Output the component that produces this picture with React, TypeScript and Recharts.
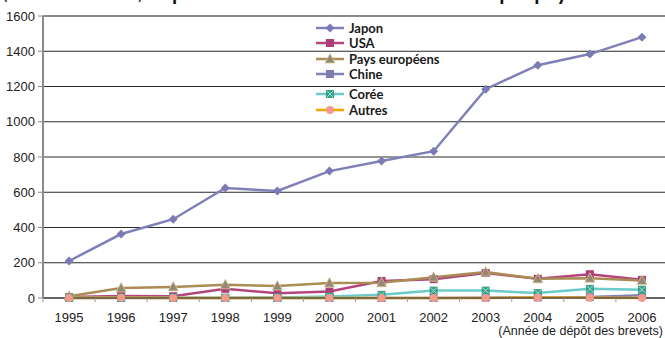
import React from "react";
import {
  LineChart,
  Line,
  XAxis,
  YAxis,
  CartesianGrid,
  Legend,
  ReferenceLine,
} from "recharts";

// Dépôts de brevets par pays, 1995-2006
const YEARS = ["1995", "1996", "1997", "1998", "1999", "2000", "2001", "2002", "2003", "2004", "2005", "2006"];
const JAPON = [210, 363, 447, 624, 607, 720, 777, 833, 1185, 1321, 1384, 1480];
const USA = [5, 12, 10, 52, 27, 37, 97, 107, 142, 109, 135, 103];
const EUROPE = [10, 57, 63, 75, 68, 85, 86, 118, 147, 109, 112, 99];
const CHINE = [0, 0, 0, 0, 0, 0, 0, 0, 2, 3, 5, 15];
const COREE = [2, 2, 2, 2, 3, 8, 18, 42, 42, 28, 52, 47];
const AUTRES = [0, 2, 0, 0, 0, 0, 0, 0, 0, 3, 2, 0];
const Y_TICKS = [0, 200, 400, 600, 800, 1000, 1200, 1400, 1600];

const TITLE_UNIT = "(nombre de brevets)";
const TITLE = "Répartition des demandes de brevets par pays";
const X_LABEL = "(Année de dépôt des brevets)";

type MarkerKind = "diamond" | "square" | "triangle" | "cross" | "circle";

interface SeriesConfig {
  dataKey: string;
  name: string;
  values: number[];
  color: string;
  markerFill: string;
  marker: MarkerKind;
}

const SERIES: SeriesConfig[] = [
  { dataKey: "japon", name: "Japon", values: JAPON, color: "#8080b8", markerFill: "#7b7bb3", marker: "diamond" },
  { dataKey: "usa", name: "USA", values: USA, color: "#b4457c", markerFill: "#ad3f76", marker: "square" },
  { dataKey: "europe", name: "Pays européens", values: EUROPE, color: "#aa8d55", markerFill: "#958870", marker: "triangle" },
  { dataKey: "chine", name: "Chine", values: CHINE, color: "#8383b3", markerFill: "#7c7cae", marker: "square" },
  { dataKey: "coree", name: "Corée", values: COREE, color: "#6ccaca", markerFill: "#3d9f84", marker: "cross" },
  { dataKey: "autres", name: "Autres", values: AUTRES, color: "#f5a500", markerFill: "#f39a8a", marker: "circle" },
];

const data = YEARS.map((year, i) => {
  const row: any = { year };
  SERIES.forEach((s) => {
    row[s.dataKey] = s.values[i];
  });
  return row;
});

const FONT_AXIS = "'Liberation Sans', Arial, sans-serif";
const FONT_TITLE = "Lato, 'Noto Sans', sans-serif";

const Marker = ({ cx, cy, kind, fill }: { cx: number; cy: number; kind: MarkerKind; fill: string }) => {
  if (cx == null || cy == null) return null;
  switch (kind) {
    case "diamond":
      return <polygon points={`${cx},${cy - 4.5} ${cx + 4.5},${cy} ${cx},${cy + 4.5} ${cx - 4.5},${cy}`} fill={fill} />;
    case "square":
      return <rect x={cx - 4} y={cy - 4} width={8} height={8} fill={fill} />;
    case "triangle":
      return (
        <polygon
          points={`${cx},${cy - 5.5} ${cx + 5},${cy + 4} ${cx - 5},${cy + 4}`}
          fill={fill}
          stroke="#d9c9a0"
          strokeWidth={0.8}
        />
      );
    case "cross":
      return (
        <g>
          <rect x={cx - 4} y={cy - 4} width={8} height={8} fill={fill} />
          <path
            d={`M${cx - 3},${cy - 3}L${cx + 3},${cy + 3}M${cx + 3},${cy - 3}L${cx - 3},${cy + 3}`}
            stroke="#8fe6dc"
            strokeWidth={1}
          />
        </g>
      );
    default:
      return <circle cx={cx} cy={cy} r={4} fill={fill} />;
  }
};

// year label + small tick marks at the band boundaries
const YearTick = (props: any) => {
  const { x, y, payload, index } = props;
  const half = payload?.offset || 26;
  return (
    <g>
      <line x1={x + half} x2={x + half} y1={y - 4} y2={y} stroke="#9a9a9a" strokeWidth={1} />
      {index === 0 && <line x1={x - half} x2={x - half} y1={y - 4} y2={y} stroke="#9a9a9a" strokeWidth={1} />}
      <text x={x} y={y + 20} textAnchor="middle" fontSize={13} fontFamily={FONT_AXIS} fill="#222">
        {payload.value}
      </text>
    </g>
  );
};

const LegendContent = () => (
  <div style={{ fontFamily: FONT_TITLE, fontWeight: 700, fontSize: 13, color: "#1a1a1a" }}>
    {SERIES.map((s, i) => (
      <div
        key={s.dataKey}
        style={{ display: "flex", alignItems: "center", height: 15.5, marginTop: i === 4 ? 4.5 : 0 }}
      >
        <svg width={28} height={12} style={{ marginRight: 5 }}>
          <line x1={0} x2={28} y1={6} y2={6} stroke={s.color} strokeWidth={2.5} />
          <Marker cx={14} cy={6} kind={s.marker} fill={s.markerFill} />
        </svg>
        <span>{s.name}</span>
      </div>
    ))}
  </div>
);

export default function App() {
  return (
    <div
      style={{
        position: "absolute",
        top: 0,
        left: 0,
        width: 665,
        height: 338,
        overflow: "hidden",
        background: "#fff",
      }}
    >
      <div
        style={{
          position: "absolute",
          top: -19,
          left: 3,
          fontFamily: FONT_TITLE,
          fontSize: 21,
          lineHeight: "21px",
          whiteSpace: "nowrap",
          color: "#111",
        }}
      >
        <span style={{ fontSize: 16 }}>{TITLE_UNIT}</span> <b>{TITLE}</b>
      </div>
      <LineChart width={668} height={338} data={data} margin={{ top: 16, right: 0, bottom: 0, left: 0 }}>
        <CartesianGrid vertical={false} stroke="#2a2a2a" strokeWidth={1} />
        <XAxis
          dataKey="year"
          scale="band"
          height={40}
          interval={0}
          tickLine={false}
          tickSize={4}
          tickMargin={0}
          tick={<YearTick />}
          axisLine={{ stroke: "#555", strokeWidth: 1.5 }}
        />
        <YAxis
          width={43}
          domain={[0, 1600]}
          ticks={Y_TICKS}
          interval={0}
          tickSize={5}
          tickMargin={3}
          axisLine={{ stroke: "#8a8a8a", strokeWidth: 2 }}
          tickLine={{ stroke: "#8a8a8a" }}
          tick={{ fontSize: 13, fontFamily: FONT_AXIS, fill: "#222" }}
        />
        <ReferenceLine y={1600} stroke="#8a8a8a" strokeWidth={2} />
        <Legend
          layout="vertical"
          align="center"
          verticalAlign="middle"
          content={<LegendContent />}
          wrapperStyle={{ position: "absolute", left: 316, top: 20, width: "auto" }}
        />
        {SERIES.map((s) => (
          <Line
            key={s.dataKey}
            type="linear"
            dataKey={s.dataKey}
            name={s.name}
            stroke={s.color}
            strokeWidth={2.5}
            isAnimationActive={false}
            dot={(p: any) => <Marker key={`${s.dataKey}-${p.index}`} cx={p.cx} cy={p.cy} kind={s.marker} fill={s.markerFill} />}
            activeDot={false}
          />
        ))}
      </LineChart>
      <div
        style={{
          position: "absolute",
          top: 325,
          left: 0,
          width: 663,
          textAlign: "right",
          fontFamily: FONT_AXIS,
          fontSize: 12.5,
          lineHeight: "12.5px",
          color: "#222",
        }}
      >
        {X_LABEL}
      </div>
    </div>
  );
}
